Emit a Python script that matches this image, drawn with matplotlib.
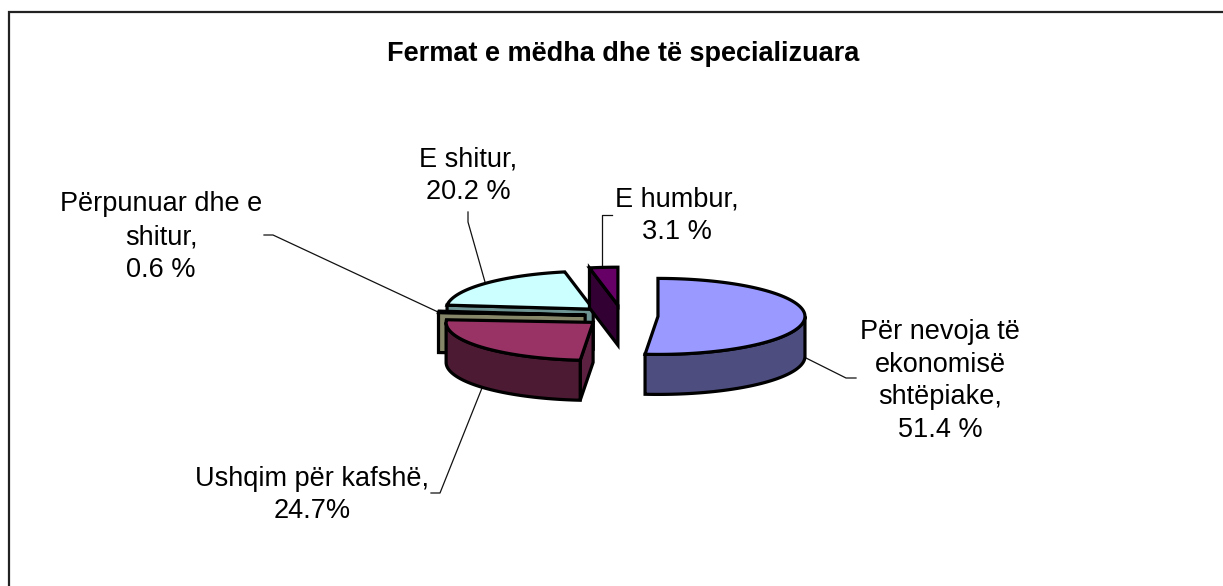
import numpy as np
import matplotlib
matplotlib.use('Agg')
import matplotlib.pyplot as plt
from matplotlib.patches import Polygon

plt.rcParams['font.family'] = ['Liberation Sans', 'DejaVu Sans']

title = 'Fermat e mëdha dhe të specializuara'
names = ['Për nevoja të\nekonomisë\nshtëpiake,\n51.4 %', 'Ushqim për kafshë,\n24.7%',
         'Përpunuar dhe e\nshitur,\n0.6 %', 'E shitur,\n20.2 %', 'E humbur,\n3.1 %']
values = [51.4, 24.7, 0.6, 20.2, 3.1]

top_colors = ['#9999ff', '#993366', '#868668', '#ccffff', '#660066']
wall_colors = ['#4d4d80', '#4d1a33', '#868668', '#6e9494', '#330033']
face_colors = ['#4d4d80', '#5c2040', '#868668', '#6e9494', '#330033']
explode = [36, 38, 37, 39, 42]
draw_order = [3, 2, 1, 4, 0]

# leader lines and label centres, in pixels of the picture
label_pos = [(940, 381), (312, 495), (161, 237), (468, 176), (677, 216)]
leaders = [
    [(806, 358), (846, 378), (856, 378)],
    [(482, 388), (440, 493), (431, 493)],
    [(438, 312), (273, 235), (264, 235)],
    [(485, 282), (468, 222), (468, 212)],
    [(602, 268), (602, 215), (612, 215)],
]

cx, cy = 622, 316
rx, ry = 147, 38
depth = 40
edge = dict(edgecolor='black', linewidth=2.3, joinstyle='miter')


def rim(c, a0, a1):
    # angles run clockwise from 12 o'clock, in degrees
    t = np.radians(np.linspace(a0, a1, 120))
    return np.column_stack([c[0] + rx * np.sin(t), c[1] - ry * np.cos(t)])


fig = plt.figure(figsize=(12.23, 5.86), dpi=100)
ax = fig.add_axes([0, 0, 1, 1])
ax.set_xlim(0, 1223)
ax.set_ylim(586, 0)
ax.axis('off')

ax.plot([9, 9, 1223], [586, 12, 12], color='#222222', linewidth=1.6, solid_joinstyle='miter')

ends = np.cumsum(values) / np.sum(values) * 360
starts = np.concatenate([[0], ends[:-1]])

for i in draw_order:
    a0, a1 = starts[i], ends[i]
    mid = np.radians((a0 + a1) / 2)
    c = (cx + explode[i] * np.sin(mid), cy - explode[i] * np.cos(mid) * ry / rx)
    down = np.array([0, depth])

    # cut face on the starting side, seen only for the left half
    if 180 < a0 < 360:
        p = rim(c, a0, a0)[0]
        quad = np.array([c, p, p + down, np.array(c) + down])
        ax.add_patch(Polygon(quad, closed=True, facecolor=face_colors[i], **edge))

    # outer wall, only the front half of the ellipse shows
    w0, w1 = max(a0, 90), min(a1, 270)
    if w1 > w0:
        arc = rim(c, w0, w1)
        wall = np.vstack([arc, arc[::-1] + down])
        ax.add_patch(Polygon(wall, closed=True, facecolor=wall_colors[i], **edge))

    top = np.vstack([[c], rim(c, a0, a1)])
    ax.add_patch(Polygon(top, closed=True, facecolor=top_colors[i], **edge))

for pts in leaders:
    xs, ys = zip(*pts)
    ax.plot(xs, ys, color='#111111', linewidth=0.9, zorder=0.5)

for name, (x, y) in zip(names, label_pos):
    ax.text(x, y, name, ha='center', va='center', fontsize=19.5, linespacing=1.33, color='black')

ax.text(623.5, 54, title, ha='center', va='center', fontsize=19.5, fontweight='bold', color='black')

plt.savefig('out.png', dpi=100)
